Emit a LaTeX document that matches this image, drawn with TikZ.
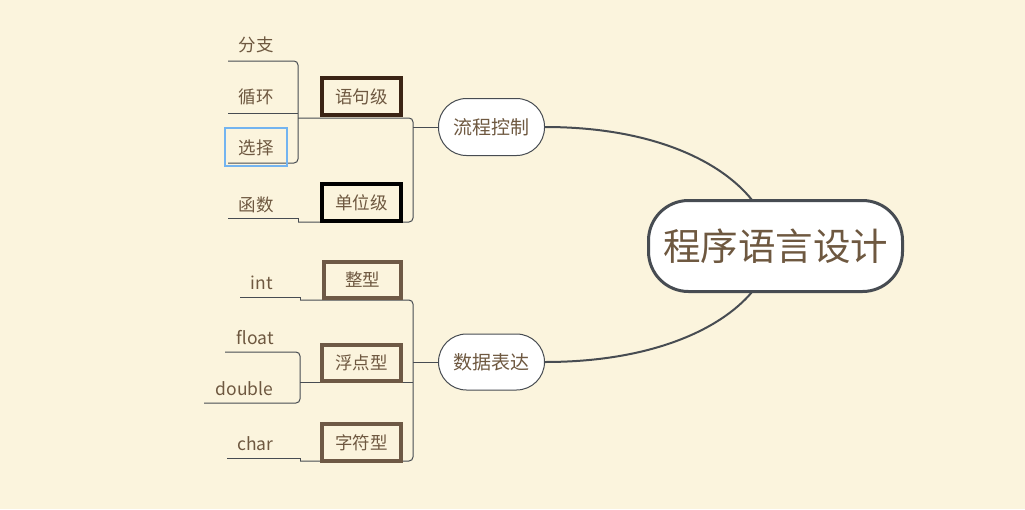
\documentclass[tikz,border=0pt]{standalone}
\usepackage{fontspec}
\setmainfont{Noto Sans CJK SC}
\definecolor{bgc}{HTML}{FBF4DD}
\definecolor{linec}{HTML}{474C52}
\definecolor{txtc}{HTML}{6E5840}
\definecolor{boxa}{HTML}{3B2414}
\definecolor{boxb}{HTML}{6E5945}
\definecolor{selc}{HTML}{73B4F0}
\tikzset{
  conn/.style={draw=linec, line width=1pt},
  bigconn/.style={draw=linec, line width=2pt},
  leaf/.style={text=txtc, font=\fontsize{17.5}{20}\selectfont, inner sep=0pt},
  lleaf/.style={leaf, anchor=base},
  lvbox/.style={draw=#1, line width=4pt, text=txtc, font=\fontsize{17.5}{20}\selectfont, minimum width=78pt, minimum height=36pt, inner sep=0pt},
  topic/.style={draw=linec, line width=1pt, fill=white, rounded corners=28pt, text=txtc, font=\fontsize{19}{22}\selectfont, minimum width=106pt, minimum height=57pt, inner sep=0pt},
  central/.style={draw=linec, line width=3pt, fill=white, rounded corners=40pt, text=txtc, font=\fontsize{37.5}{42}\selectfont, minimum width=254pt, minimum height=91pt, inner sep=0pt},
  selbox/.style={draw=selc, line width=2pt, minimum width=62pt, minimum height=38pt, inner sep=0pt}
}
\begin{document}
\begin{tikzpicture}[x=1pt,y=-1pt]
\fill[bgc] (0,0) rectangle (1025,509);
\useasboundingbox (0,0) rectangle (1025,509);

% coordinates
\coordinate (c1) at (752,200);
\coordinate (c2) at (752,292);
\coordinate (b1) at (413,170);
\coordinate (b2) at (298,110);
\coordinate (b3) at (413,380);
\coordinate (b4) at (300,380);
\coordinate (t1) at (298,118);
\coordinate (t2) at (298,222);
\coordinate (t2a) at (298,218);
\coordinate (fz) at (228,61);
\coordinate (xh) at (228,113);
\coordinate (xhe) at (298,113);
\coordinate (xz) at (228,163);
\coordinate (hs) at (228,218);
\coordinate (u1) at (300,300);
\coordinate (u1a) at (300,297);
\coordinate (u2) at (300,461);
\coordinate (u2a) at (300,458);
\coordinate (in) at (240,297);
\coordinate (fl) at (225,352);
\coordinate (db) at (204,403);
\coordinate (fd) at (300,382);
\coordinate (ch) at (227,458);

% topics
\node[topic] (lc) at (491.5,127) {流程控制};
\node[topic, minimum height=56pt] (sj) at (491.5,362) {数据表达};

% curves
\draw[bigconn] (lc.east) .. controls (650,127) and (720,160) .. (c1);
\draw[bigconn] (sj.east) .. controls (650,362) and (720,330) .. (c2);

\node[central] (root) at (775.5,246) {程序语言设计};

% top bracket
\draw[conn, rounded corners=4pt] (t1) -| (b1) |- (t2);
\draw[conn] (lc.west) -- (lc.west -| b1);
\draw[conn, rounded corners=4pt] (fz) -| (b2) |- (xz);
\draw[conn] (xh) -- (xhe);
\draw[conn] (hs) -- (t2a) -- (t2);

% bottom bracket
\draw[conn, rounded corners=4pt] (u1) -| (b3) |- (u2);
\draw[conn] (sj.west) -- (sj.west -| b3);
\draw[conn] (fd) -- (fd -| b3);
\draw[conn] (in) -- (u1a) -- (u1);
\draw[conn, rounded corners=4pt] (fl) -| (b4) |- (db);
\draw[conn] (ch) -- (u2a) -- (u2);

% level boxes
\node[lvbox=boxa, minimum width=79pt, minimum height=37pt] (yjj) at (361.5,96.5) {语句级};
\node[lvbox=black, minimum width=79pt, minimum height=37pt] (dwj) at (361.5,202.5) {单位级};
\node[lvbox=boxb, minimum width=77pt, minimum height=36pt] (zx) at (362.5,280) {整型};
\node[lvbox=boxb, minimum width=79pt, minimum height=36pt] (fdx) at (361.5,362.5) {浮点型};
\node[lvbox=boxb, minimum width=79pt, minimum height=37pt] (zfx) at (361.5,442.5) {字符型};

% leaves
\node[leaf] (fenzhi) at (256,45) {分支};
\node[leaf] (xunhuan) at (256,97) {循环};
\node[selbox] (sel) at (256,147) {};
\node[leaf] (xuanze) at (256,148) {选择};
\node[leaf] (hanshu) at (256,204.5) {函数};
\node[lleaf] (tint) at (262,289) {int};
\node[lleaf] (tfloat) at (255,344) {float};
\node[lleaf] (tdouble) at (244.5,395) {double};
\node[lleaf] (tchar) at (255.5,450) {char};
\end{tikzpicture}
\end{document}
